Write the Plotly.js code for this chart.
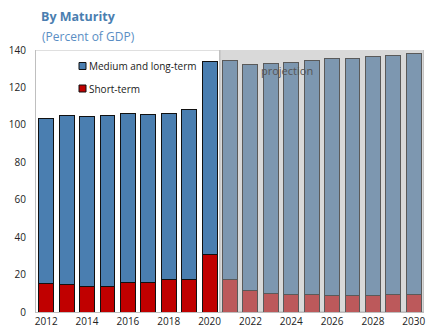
<!DOCTYPE html>
<html>
<head>
<meta charset="utf-8">
<script src="https://cdn.plot.ly/plotly-3.0.1.min.js"></script>
<style>
  html, body { margin: 0; padding: 0; background: #ffffff; }
  #chart { width: 427px; height: 326px; }
</style>
</head>
<body>
<div id="chart"></div>
<script>
// Public debt by maturity, percent of GDP (2021 onward are projections)
const years = [2012, 2013, 2014, 2015, 2016, 2017, 2018, 2019, 2020,
               2021, 2022, 2023, 2024, 2025, 2026, 2027, 2028, 2029, 2030];
const shortTerm = [15.0, 14.5, 13.7, 13.7, 15.5, 15.8, 17.6, 17.6, 30.5,
                   17.2, 11.7, 10.1, 9.5, 9.5, 9.0, 9.0, 9.0, 9.5, 9.5];
const mediumLong = [88.3, 90.3, 90.7, 91.1, 90.7, 89.8, 88.7, 90.4, 103.1,
                    117.2, 120.8, 122.8, 124.0, 124.8, 126.2, 126.6, 127.6, 127.7, 128.4];
const seriesNames = ['Medium and long-term', 'Short-term'];
const lastActualYear = 2020;
const xTickVals = [2012, 2014, 2016, 2018, 2020, 2022, 2024, 2026, 2028, 2030];
const yTickVals = [0, 20, 40, 60, 80, 100, 120, 140];

const FONT = 'Open Sans, Noto Sans, sans-serif';
const isProj = years.map(y => y > lastActualYear);

const colors = {
  ml:      '#4A7EB0',
  mlProj:  '#7D97B0',
  st:      '#C00000',
  stProj:  '#BC595B',
  edge:    '#111111',
  edgeProj:'#5A5A5A',
  shade:   '#D9D9D9',
  frame:   '#BFBFBF'
};

const W = 427, H = 326;
const margin = { l: 36, r: 3, t: 50, b: 14, pad: 0 };
const plotW = W - margin.l - margin.r;
const plotH = H - margin.t - margin.b;
// pixel -> paper coordinates, used for the hand-placed legend
const px = x => (x - margin.l) / plotW;
const py = y => (H - margin.b - y) / plotH;

const barWidth = 0.73;

const traces = [
  {
    type: 'bar', name: seriesNames[1], x: years, y: shortTerm, width: barWidth,
    marker: {
      color: isProj.map(p => p ? colors.stProj : colors.st),
      line: { color: isProj.map(p => p ? colors.edgeProj : colors.edge), width: 1 }
    },
    showlegend: false, hoverinfo: 'x+y+name'
  },
  {
    type: 'bar', name: seriesNames[0], x: years, y: mediumLong, width: barWidth,
    marker: {
      color: isProj.map(p => p ? colors.mlProj : colors.ml),
      line: { color: isProj.map(p => p ? colors.edgeProj : colors.edge), width: 1 }
    },
    showlegend: false, hoverinfo: 'x+y+name'
  }
];

const xMin = years[0] - 0.5, xMax = years[years.length - 1] + 0.5;

const shapes = [
  // projection period background
  { type: 'rect', layer: 'below', xref: 'x', yref: 'y',
    x0: lastActualYear + 0.5, x1: xMax, y0: 0, y1: 141,
    fillcolor: colors.shade, line: { color: colors.frame, width: 1.5 } },
  // top frame line over the historical part
  { type: 'line', layer: 'below', xref: 'x', yref: 'y',
    x0: xMin, x1: lastActualYear + 0.5, y0: 140, y1: 140,
    line: { color: colors.frame, width: 1 } }
];

// legend swatches
const legendRows = [
  { name: seriesNames[0], color: colors.ml, y: 66 },
  { name: seriesNames[1], color: colors.st, y: 88.5 }
];
const annotations = [];
legendRows.forEach(r => {
  shapes.push({ type: 'rect', xref: 'paper', yref: 'paper',
    x0: px(79), x1: px(86), y0: py(r.y + 3.5), y1: py(r.y - 3.5),
    fillcolor: r.color, line: { color: colors.edge, width: 1 } });
  annotations.push({ xref: 'paper', yref: 'paper', x: px(86.5), y: py(r.y),
    xanchor: 'left', yanchor: 'middle', showarrow: false, text: r.name,
    font: { family: FONT, size: 10, color: '#1a1a1a' } });
});

annotations.push({
  xref: 'x', yref: 'y', x: 2023.8, y: 128.8, text: 'projection', showarrow: false,
  xanchor: 'center', yanchor: 'middle',
  font: { family: FONT, size: 11, color: '#555555' }
});

annotations.push({
  xref: 'paper', yref: 'paper', x: px(39.5), y: py(36), xanchor: 'left', yanchor: 'middle',
  showarrow: false, text: '(Percent of GDP)',
  font: { family: FONT, size: 12, color: '#5A8EC4' }
});

const layout = {
  width: W, height: H, margin: margin,
  paper_bgcolor: '#ffffff', plot_bgcolor: 'rgba(0,0,0,0)',
  barmode: 'stack', showlegend: false,
  font: { family: FONT, size: 10, color: '#222222' },
  title: {
    text: '<b>By Maturity</b>', xref: 'container', yref: 'container',
    x: 41 / W, xanchor: 'left', y: 1 - 17 / H, yanchor: 'middle',
    font: { family: FONT, size: 12.5, color: '#4A7EB0' }
  },
  xaxis: {
    range: [xMin, xMax], tickmode: 'array', tickvals: xTickVals,
    ticks: '', showgrid: false, zeroline: false,
    showline: true, linecolor: colors.frame, linewidth: 1,
    tickfont: { family: FONT, size: 10, color: '#222222' }
  },
  yaxis: {
    range: [0, 140], tickmode: 'array', tickvals: yTickVals,
    ticks: '', showgrid: false, zeroline: false,
    showline: true, linecolor: colors.frame, linewidth: 1,
    ticklabelstandoff: 7,
    tickfont: { family: FONT, size: 10, color: '#222222' }
  },
  shapes: shapes,
  annotations: annotations
};

Plotly.newPlot('chart', traces, layout, { staticPlot: true, displayModeBar: false });
</script>
</body>
</html>
